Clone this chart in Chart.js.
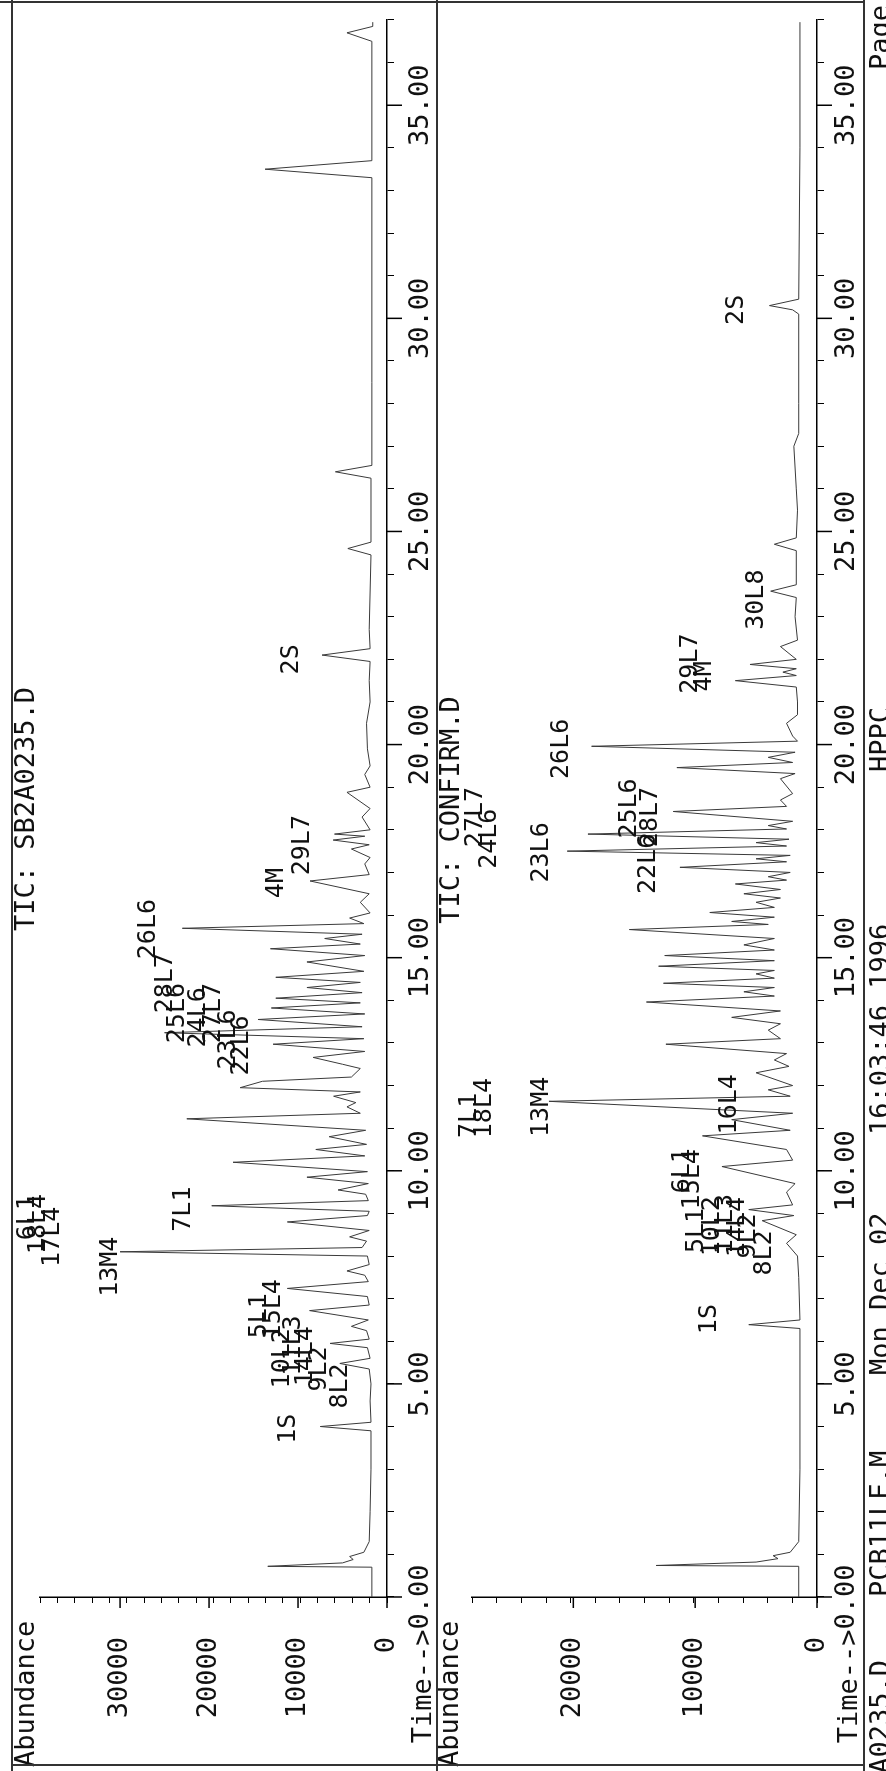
<!DOCTYPE html>
<html lang="en">
<head>
<meta charset="UTF-8">
<title>TIC: SB2A0235.D / TIC: CONFIRM.D</title>
<style>
  html, body { margin: 0; padding: 0; background: #fff; overflow: hidden; }
  /* the printout is landscape, so the whole page is drawn flat and turned a quarter left */
  #page { position: absolute; left: 0; top: 0; width: 1771px; height: 886px;
          transform-origin: 0 0; transform: translate(0px, 1771px) rotate(-90deg); background: #fff; }
  #c1 { position: absolute; left: 0; top: 0; }
  #c2 { position: absolute; left: 0; top: 437px; }
  .rule { position: absolute; background: #333; }
</style>
</head>
<body>
<div id="page">
  <canvas id="c1" width="1771" height="437"></canvas>
  <canvas id="c2" width="1771" height="449"></canvas>
  <div class="rule" style="left:0;top:11px;width:1771px;height:2px"></div>
  <div class="rule" style="left:0;top:436px;width:1771px;height:2px"></div>
  <div class="rule" style="left:0;top:863px;width:1771px;height:2px"></div>
  <div class="rule" style="left:5px;top:11px;width:2px;height:854px"></div>
  <div class="rule" style="left:1768px;top:0;width:2px;height:865px"></div>
</div>
<script src="https://cdn.jsdelivr.net/npm/chart.js"></script>
<script>
// ---- SB2A0235.D (upper trace) : retention time (min) / abundance ----
const p1Time = [0, 0.70, 0.72, 0.80, 0.88, 0.95, 1.05, 1.3, 2.0, 3.0, 3.9, 4.0, 4.1, 4.6, 5.0,
  5.35, 5.48, 5.6, 5.85, 5.95, 6.05, 6.25, 6.35, 6.5, 6.72, 6.85, 7.05, 7.24, 7.4, 7.55, 7.65,
  7.8, 8.0, 8.1, 8.2, 8.35, 8.45, 8.6, 8.8, 8.95, 9.05, 9.18, 9.3, 9.45, 9.55, 9.7, 9.85, 9.98,
  10.2, 10.35, 10.5, 10.62, 10.8, 10.95, 11.22, 11.35, 11.5, 11.6, 11.75, 11.85, 11.95, 12.1,
  12.2, 12.4, 12.5, 12.66, 12.8, 12.97, 13.1, 13.24, 13.38, 13.55, 13.68, 13.82, 13.94, 14.05,
  14.18, 14.3, 14.42, 14.54, 14.68, 14.9, 15.05, 15.21, 15.32, 15.45, 15.55, 15.69, 15.8, 15.93,
  16.05, 16.3, 16.5, 16.8, 16.95, 17.2, 17.35, 17.55, 17.65, 17.76, 17.85, 17.9, 18.0, 18.3,
  18.5, 18.88, 19.0, 19.3, 19.5, 19.9, 20.5, 21.0, 21.5, 21.95, 22.1, 22.25, 22.7, 24.45, 24.6,
  24.75, 26.25, 26.4, 26.55, 28.5, 33.3, 33.5, 33.7, 36.5, 36.7, 36.85, 36.95];
const p1Abund = [1700, 1700, 13400, 5000, 3800, 4200, 2600, 2000, 1900, 1800, 1800, 7500, 1800, 1900, 1800,
  2000, 5300, 1900, 2200, 6400, 2000, 2300, 4000, 2100, 8700, 2000, 2200, 11200, 2100, 2500, 4500,
  2000, 2200, 30000, 2800, 2300, 4200, 2000, 11200, 2200, 2000, 19700, 2100, 2400, 5500, 2100, 9000, 2200,
  17300, 2500, 8000, 2300, 6500, 2400, 22500, 3000, 4500, 3500, 6000, 3000, 16500, 14000,
  4000, 3000, 5000, 8300, 2500, 12800, 2600, 25000, 2800, 14500, 2500, 13000, 3000, 12500,
  2800, 9000, 3000, 12500, 2600, 9000, 2500, 13100, 3000, 7000, 2800, 23000, 2600, 4200,
  1900, 3000, 2000, 8650, 2000, 2500, 1900, 4000, 2000, 6050, 2500, 5900, 1900, 2800,
  1900, 4500, 1900, 2500, 1900, 2200, 2300, 1900, 2000, 1900, 7300, 1900, 2000, 1800, 4400,
  1800, 1800, 5800, 1700, 1700, 1700, 13700, 1700, 1700, 4500, 1600, 1600];

// ---- CONFIRM.D (lower trace) ----
const p2Time = [0, 0.72, 0.74, 0.82, 0.9, 0.97, 1.05, 1.3, 3.0, 6.3, 6.39, 6.5, 7.5, 8.0, 8.3, 8.5,
  8.83, 8.95, 9.09, 9.2, 9.5, 9.7, 10.1, 10.25, 10.5, 10.82, 10.95, 11.2, 11.35, 11.63, 11.75,
  11.9, 12.0, 12.3, 12.45, 12.6, 12.75, 12.97, 13.1, 13.3, 13.45, 13.6, 13.75, 13.96, 14.1, 14.2,
  14.3, 14.4, 14.52, 14.62, 14.7, 14.8, 14.93, 15.05, 15.18, 15.3, 15.45, 15.66, 15.78, 15.85,
  15.95, 16.06, 16.18, 16.3, 16.4, 16.5, 16.6, 16.73, 16.82, 16.9, 17.0, 17.12, 17.25, 17.32,
  17.4, 17.5, 17.62, 17.7, 17.78, 17.9, 18.02, 18.1, 18.2, 18.43, 18.55, 18.7, 18.85, 19.2,
  19.32, 19.46, 19.58, 19.7, 19.82, 19.96, 20.08, 20.2, 20.5, 20.7, 21.0, 21.35, 21.5, 21.62,
  21.7, 21.78, 21.88, 22.0, 22.3, 22.45, 23.0, 23.45, 23.6, 23.75, 24.55, 24.7, 24.85, 25.5,
  26.0, 27.0, 27.3, 28.0, 30.1, 30.2, 30.3, 30.45, 34.0, 36.95];
const p2Abund = [1500, 1500, 13200, 5000, 3200, 3600, 2200, 1500, 1400, 1400, 5600, 1400, 1500, 1600, 2500, 1700,
  4500, 1900, 5600, 2000, 2500, 1800, 7800, 2000, 2500, 9400, 2200, 7000, 2000, 22000, 2200,
  4000, 2000, 5000, 2300, 3500, 2500, 12400, 3000, 4000, 3000, 7000, 3000, 14000, 3500, 6000,
  3500, 12600, 3500, 5000, 3500, 13000, 3500, 12500, 3500, 6000, 3500, 15400, 4000, 7000,
  3500, 8800, 3500, 5000, 3000, 6000, 3000, 6700, 2500, 4000, 2200, 11250, 2500, 5000,
  2200, 20500, 2500, 5000, 2300, 18800, 2500, 4000, 2000, 11800, 2500, 3000, 2000, 3000,
  1800, 11500, 2000, 4000, 1800, 18500, 1600, 2000, 2500, 1600, 1600, 1700, 6700, 1700,
  2800, 1700, 5500, 1700, 3000, 1600, 1800, 1700, 3800, 1700, 1700, 3500, 1700, 1600,
  1700, 1900, 1500, 1500, 1500, 2000, 3900, 1500, 1400, 1400];

// ---- peak annotations ----
const p1LabelText  = ['1S', '8L2', '9L2', '14L4', '10L2', '11L3', '5L1', '15L4', '13M4', '17L4', '18L4', '6L1', '7L1',
  '22L6', '23L6', '24L6', '27L7', '25L6', '28L7', '26L6', '4M', '29L7', '2S'];
const p1LabelTime  = [3.95, 4.95, 5.35, 5.65, 5.6, 5.9, 6.6, 6.75, 7.75, 8.45, 8.75, 8.9, 9.1,
  12.94, 13.08, 13.6, 13.7, 13.7, 14.4, 15.67, 16.75, 17.64, 22.0];
const p1LabelAbund = [11100, 5200, 7600, 9200, 11800, 10500, 14300, 12800, 31100, 37600, 39200, 40400, 22900,
  16300, 17800, 21200, 19500, 23600, 24900, 26800, 12400, 9550, 10700];

const p2LabelText  = ['1S', '8L2', '9L2', '14L4', '11L3', '10L2', '5L1', '15L4', '6L1', '16L4', '13M4', '18L4', '7L1',
  '22L6', '23L6', '28L7', '25L6', '24L6', '27L7', '26L6', '4M', '29L7', '30L8', '2S'];
const p2LabelTime  = [6.52, 8.07, 8.47, 8.68, 8.75, 8.7, 8.6, 9.8, 10.0, 11.56, 11.5, 11.47, 11.3,
  17.2, 17.47, 18.3, 18.5, 17.79, 18.3, 19.9, 21.6, 21.9, 23.4, 30.2];
const p2LabelAbund = [8840, 4340, 5620, 6500, 7550, 8600, 9880, 10200, 11000, 7150, 22650, 27300, 28500,
  13800, 22650, 13650, 15400, 26900, 28000, 21000, 9200, 10400, 5000, 6600];

// ---- axes ----
const timeMax = 37;
const timeMajor = [0, 5, 10, 15, 20, 25, 30, 35];
const p1AbundMax = 39000;
const p1AbundMajor = [0, 10000, 20000, 30000];
const p2AbundMax = 28300;
const p2AbundMajor = [0, 10000, 20000];

const FONT = 'DejaVu Sans Mono';

function toPoints(xs, ys) {
  return xs.map((x, i) => ({x: x, y: ys[i]}));
}

function pagePlugin(page) {
  return {
    id: 'pageText',
    afterDraw(chart) {
      const ctx = chart.ctx;
      const xs = chart.scales.x, ys = chart.scales.y, area = chart.chartArea;
      ctx.save();
      ctx.strokeStyle = '#000';
      ctx.lineWidth = 1.5;
      // longer marks every 5 min and every 10000
      timeMajor.forEach(v => {
        const px = xs.getPixelForValue(v);
        ctx.beginPath(); ctx.moveTo(px, area.bottom); ctx.lineTo(px, area.bottom + 15); ctx.stroke();
      });
      page.abundMajor.forEach(v => {
        const py = ys.getPixelForValue(v);
        ctx.beginPath(); ctx.moveTo(area.left, py); ctx.lineTo(area.left - 11, py); ctx.stroke();
      });

      ctx.fillStyle = '#111';
      ctx.font = '27px "' + FONT + '"';
      ctx.textAlign = 'right';
      ctx.textBaseline = 'middle';
      page.abundMajor.forEach(v => {
        ctx.fillText(String(v), area.left - 40, ys.getPixelForValue(v));
      });

      ctx.font = '25px "' + FONT + '"';
      ctx.textAlign = 'center';
      page.labels.forEach((txt, i) => {
        ctx.fillText(txt, xs.getPixelForValue(page.labelTime[i]), ys.getPixelForValue(page.labelAbund[i]));
      });

      ctx.font = '27px "' + FONT + '"';
      ctx.textBaseline = 'alphabetic';
      // "Time-->" sits just before the 0.00 tick label
      const zeroW = ctx.measureText('0.00').width;
      ctx.textAlign = 'right';
      ctx.fillText('Time-->', xs.getPixelForValue(0) - zeroW / 2, page.timeY);
      page.texts.forEach(t => {
        ctx.textAlign = t.align || 'left';
        ctx.fillText(t.text, t.x, t.y);
      });
      ctx.restore();
    }
  };
}

function makeChart(id, times, abund, yMax, page) {
  return new Chart(document.getElementById(id), {
    type: 'scatter',
    data: {
      datasets: [{
        data: toPoints(times, abund),
        showLine: true,
        borderColor: '#3a3a3a',
        borderWidth: 1,
        pointRadius: 0,
        tension: 0
      }]
    },
    options: {
      responsive: false,
      animation: false,
      devicePixelRatio: 1,
      layout: { padding: { top: page.top, right: 20, left: 0, bottom: 0 } },
      plugins: { legend: { display: false }, tooltip: { enabled: false } },
      scales: {
        x: {
          type: 'linear', min: 0, max: timeMax,
          afterFit: s => { s.height = page.xHeight; },
          ticks: {
            stepSize: 1, autoSkip: false, maxRotation: 0, minRotation: 0, includeBounds: false,
            padding: page.xPad, color: '#111', font: { family: FONT, size: 27 },
            callback: v => (timeMajor.includes(v) ? v.toFixed(2) : '')
          },
          grid: { drawOnChartArea: false, tickLength: 7, color: '#000', lineWidth: 1 },
          border: { display: true, color: '#000', width: 1.5 }
        },
        y: {
          type: 'linear', min: 0, max: yMax,
          afterFit: s => { s.width = 174; },
          ticks: {
            stepSize: 2000, autoSkip: false, includeBounds: false,
            padding: 19, color: '#111', font: { family: FONT, size: 27 },
            callback: () => ''
          },
          grid: { drawOnChartArea: false, tickLength: 6, color: '#000', lineWidth: 1 },
          border: { display: true, color: '#000', width: 1.5 }
        }
      }
    },
    plugins: [pagePlugin(page)]
  });
}

makeChart('c1', p1Time, p1Abund, p1AbundMax, {
  top: 40, xHeight: 50, xPad: 11, timeY: 431, abundMajor: p1AbundMajor,
  labels: p1LabelText, labelTime: p1LabelTime, labelAbund: p1LabelAbund,
  texts: [
    { text: 'Abundance', x: 4, y: 34 },
    { text: 'TIC: SB2A0235.D', x: 962, y: 34, align: 'center' }
  ]
});

makeChart('c2', p2Time, p2Abund, p2AbundMax, {
  top: 28, xHeight: 69, xPad: 7, timeY: 420, abundMajor: p2AbundMajor,
  labels: p2LabelText, labelTime: p2LabelTime, labelAbund: p2LabelAbund,
  texts: [
    { text: 'Abundance', x: 4, y: 21 },
    { text: 'TIC: CONFIRM.D', x: 961, y: 22, align: 'center' },
    { text: 'SB2A0235.D', x: 111, y: 452, align: 'right' },
    { text: 'PCB11LE.M', x: 174, y: 452 },
    { text: 'Mon Dec 02', x: 396, y: 452 },
    { text: '16:03:46 1996', x: 636, y: 452 },
    { text: 'HPPC', x: 999, y: 452 },
    { text: 'Page', x: 1701, y: 452 }
  ]
});
</script>
</body>
</html>
